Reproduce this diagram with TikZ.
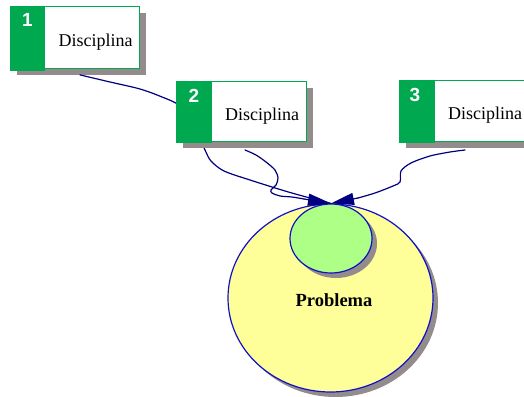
\documentclass[tikz,border=0pt]{standalone}
\usepackage{fontspec}
\setmainfont{Liberation Serif}
\newfontfamily\numfont{Liberation Sans}
\usetikzlibrary{shapes.geometric,arrows.meta,shadows}

\definecolor{tabgreen}{HTML}{00A850}
\definecolor{shadowgrey}{HTML}{948C8C}
\definecolor{probyellow}{HTML}{FFFF99}
\definecolor{coregreen}{HTML}{ADFF85}
\definecolor{linknavy}{HTML}{000080}
\definecolor{rimblue}{HTML}{1010C8}

\tikzset{
  panel/.style={draw=tabgreen, line width=0.9pt, fill=white, anchor=north west,
    inner sep=0pt, minimum height=62pt,
    drop shadow={shadow xshift=7pt, shadow yshift=-7pt, fill=shadowgrey, opacity=1}},
  tab/.style={fill=tabgreen, anchor=north west, inner sep=0pt,
    minimum width=35pt, minimum height=65pt},
  num/.style={font=\numfont\bfseries\fontsize{19}{19}\selectfont, text=white, inner sep=0pt},
  caption/.style={font=\fontsize{18}{19}\selectfont, inner sep=0pt, anchor=base},
  link/.style={draw=linknavy, line width=1.2pt, line join=round, line cap=round},
  head/.style={-{Triangle[length=23pt,width=12pt]}},
  blob/.style={ellipse, draw=rimblue, line width=1.2pt, inner sep=0pt,
    drop shadow={shadow xshift=5pt, shadow yshift=-5pt, fill=shadowgrey, opacity=1}}
}

\begin{document}
\begin{tikzpicture}[x=1pt,y=-1pt]
\clip (0,0) rectangle (524,396);

% problem ellipse and its core
\node[blob, fill=probyellow, minimum width=205pt, minimum height=188pt] (problem) at (330.5,298) {};
\node[blob, fill=coregreen, minimum width=82pt, minimum height=69pt] (core) at (331,238.5) {};
\node[font=\bfseries\fontsize{18.5}{19}\selectfont, inner sep=0pt] (ptext) at (334,300) {Problema};
\coordinate (tip) at (core.north);

% first discipline
\node[panel, minimum width=129pt] (box1) at (10,6) {};
\node[tab] (tab1) at (box1.north west) {};
\node[num] (n1) at (27.5,20) {1};
\node[caption] (c1) at (95.5,46) {Disciplina};

% link from the first discipline, passing behind the second
\draw[link] (box1.south) ++(5,6) coordinate (s1)
  plot[smooth, tension=0.5] coordinates {(s1) (110,82) (140,89) (162,97) (180,106) (195,128) (205,150)
  (211,161) (224,171) (250,180) (285,191) (310,198) (tip)};

% link from the second discipline
\coordinate (s2) at (245,150);
\draw[link] plot[smooth, tension=0.5] coordinates {(s2) (256,155) (266,162) (275,170) (278,178)
  (276,185) (271,190) (272,193) (280,196) (292,197) (304,199)};
\draw[link, head] (304,199) -- (tip);

% link from the third discipline
\coordinate (s3) at (465,150);
\draw[link] plot[smooth, tension=0.5] coordinates {(s3) (450,152) (430,156) (411,163) (401,171)
  (400,182) (393,186) (375,193) (358,198)};
\draw[link, head] (358,198) -- (tip);

% second discipline
\node[panel, minimum width=130pt, minimum height=60pt] (box2) at (176,81) {};
\node[tab, minimum width=36pt, minimum height=62pt] (tab2) at (box2.north west) {};
\node[num] (n2) at (194,96) {2};
\node[caption] (c2) at (262,120) {Disciplina};

% third discipline
\node[panel, minimum width=140pt, minimum height=61pt] (box3) at (399,80) {};
\node[tab, minimum width=36pt, minimum height=63pt] (tab3) at (box3.north west) {};
\node[num] (n3) at (415,95) {3};
\node[caption] (c3) at (485,119) {Disciplina};
\end{tikzpicture}
\end{document}
